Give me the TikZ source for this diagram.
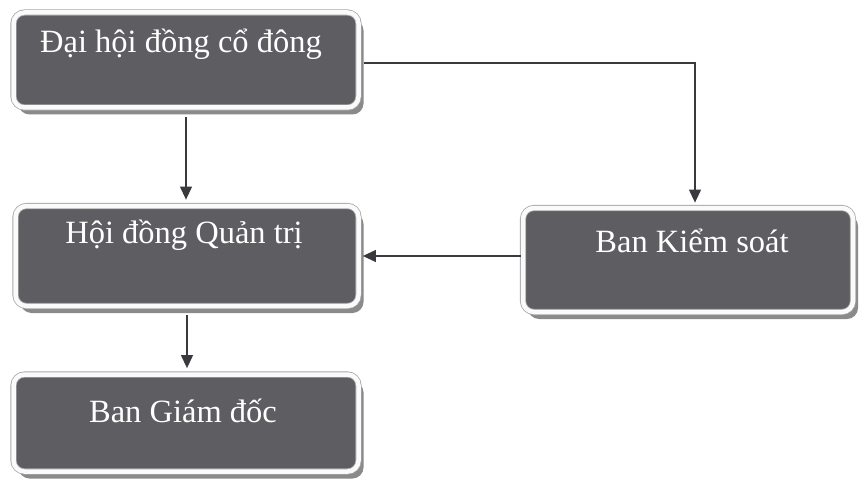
\documentclass[tikz,border=0pt]{standalone}
\usepackage{fontspec}
\setmainfont{Liberation Serif}
\usetikzlibrary{arrows.meta,shadows}
\definecolor{boxdark}{HTML}{5D5D62}
\definecolor{rimgray}{HTML}{A8A8A8}
\definecolor{shadowgray}{HTML}{8A8A8A}
\definecolor{linegray}{HTML}{3A3A3E}
\tikzset{
  orgbox/.style={rounded corners=11pt, fill=boxdark, draw=rimgray, double=white!96!gray,
    double distance=4.5pt, line width=0.8pt,
    drop shadow={shadow xshift=5pt, shadow yshift=-7pt, fill=shadowgray, opacity=1},
    inner sep=0pt},
  boxtext/.style={text=white, font=\fontsize{32.5}{36}\selectfont, anchor=base},
  arr/.style={draw=linegray, line width=1.2pt, -{Triangle[width=12pt,length=13pt]}}
}
\begin{document}
\begin{tikzpicture}[x=1pt,y=1pt]
\useasboundingbox[fill=white] (0,0) rectangle (861,-484);
\node[orgbox, minimum width=345pt, minimum height=95pt] (A) at (186,-60) {};
\node[orgbox, minimum width=343pt, minimum height=100pt] (B) at (187,-256) {};
\node[orgbox, minimum width=330pt, minimum height=104pt] (C) at (688,-260) {};
\node[orgbox, minimum width=345pt, minimum height=97pt] (D) at (186,-423) {};
\node[boxtext] (tA) at (181,-53) {Đại hội đồng cổ đông};
\node[boxtext] (tB) at (184,-243) {Hội đồng Quản trị};
\node[boxtext] (tC) at (692,-252) {Ban Kiểm soát};
\node[boxtext] (tD) at (183,-422) {Ban Giám đốc};
\draw[arr, shorten <=9pt, shorten >=6pt] (A.south) -- (A.south |- B.north);
\draw[arr, shorten <=9pt, shorten >=6pt] (B.south) -- (B.south |- D.north);
\draw[arr, shorten <=5pt, shorten >=5pt] ([yshift=-3pt]A.east) -| ([xshift=7pt]C.north);
\draw[arr, shorten <=2pt, shorten >=4pt] (C.west |- B.east) -- (B.east);
\end{tikzpicture}
\end{document}
